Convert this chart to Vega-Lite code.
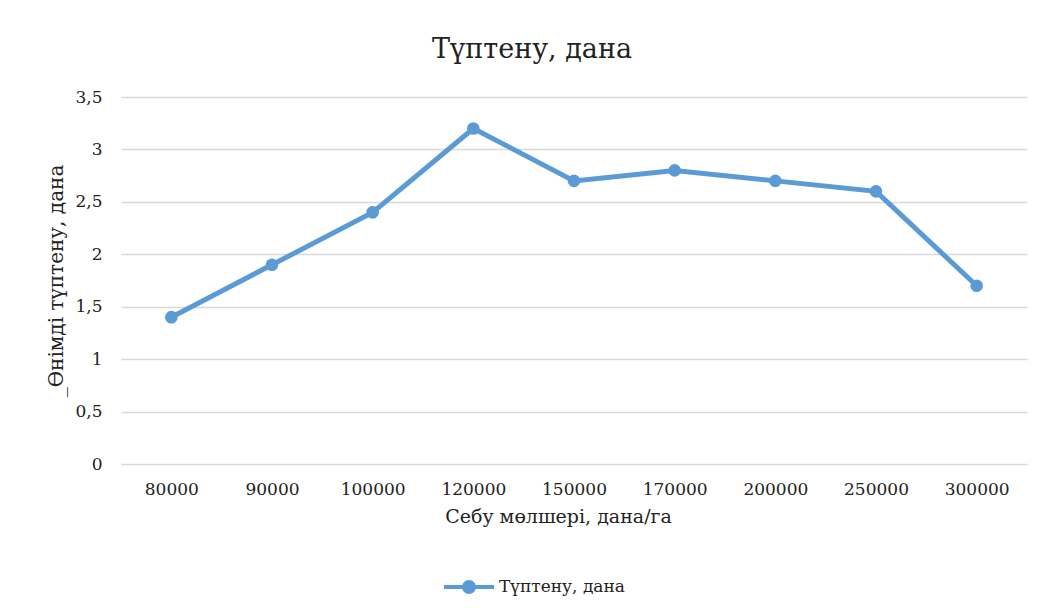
{
  "$schema": "https://vega.github.io/schema/vega-lite/v6.json",
  "autosize": "none",
  "width": 906,
  "height": 367,
  "padding": {"left": 121, "top": 97, "right": 13, "bottom": 149},
  "background": "white",
  "config": {
    "font": "DejaVu Serif",
    "view": {"stroke": null},
    "axis": {"labelFont": "DejaVu Serif", "titleFont": "DejaVu Serif", "labelColor": "#222", "titleColor": "#222", "titleFontWeight": "normal"},
    "legend": {"labelFont": "DejaVu Serif"}
  },
  "title": {
    "text": "Түптену, дана",
    "font": "DejaVu Serif",
    "fontSize": 27,
    "fontWeight": "normal",
    "color": "#222",
    "anchor": "middle",
    "dx": -42,
    "offset": 24
  },
  "data": {
    "values": [
      {"rate": "80000", "value": 1.4, "series": "Түптену, дана"},
      {"rate": "90000", "value": 1.9, "series": "Түптену, дана"},
      {"rate": "100000", "value": 2.4, "series": "Түптену, дана"},
      {"rate": "120000", "value": 3.2, "series": "Түптену, дана"},
      {"rate": "150000", "value": 2.7, "series": "Түптену, дана"},
      {"rate": "170000", "value": 2.8, "series": "Түптену, дана"},
      {"rate": "200000", "value": 2.7, "series": "Түптену, дана"},
      {"rate": "250000", "value": 2.6, "series": "Түптену, дана"},
      {"rate": "300000", "value": 1.7, "series": "Түптену, дана"}
    ]
  },
  "encoding": {
    "x": {
      "field": "rate",
      "type": "ordinal",
      "sort": null,
      "scale": {"paddingInner": 0, "paddingOuter": 0},
      "axis": {
        "title": "Себу мөлшері, дана/га",
        "titleFontSize": 19,
        "titlePadding": 10,
        "titleX": 437,
        "labelAngle": 0,
        "labelFontSize": 17,
        "labelPadding": 17,
        "ticks": false,
        "domain": false,
        "grid": false
      }
    },
    "y": {
      "field": "value",
      "type": "quantitative",
      "scale": {"domain": [0, 3.5], "nice": false},
      "axis": {
        "title": "_Өнімді түптену, дана",
        "titleFontSize": 20,
        "titlePadding": 8,
        "values": [0, 0.5, 1, 1.5, 2, 2.5, 3, 3.5],
        "labelExpr": "replace(toString(datum.value), '.', ',')",
        "labelFontSize": 17,
        "labelPadding": 19,
        "ticks": false,
        "domain": false,
        "grid": true,
        "gridColor": "#d9d9d9",
        "gridWidth": 1.5
      }
    },
    "color": {
      "field": "series",
      "type": "nominal",
      "scale": {"range": ["#5b9bd5"]},
      "legend": {
        "title": null,
        "orient": "none",
        "legendX": 336,
        "legendY": 478,
        "labelFontSize": 17,
        "labelColor": "#222",
        "symbolType": "M-2.5,0H-0.5A0.5,0.5 0 1,1 0.5,0A0.5,0.5 0 1,1 -0.5,0M0.5,0H2.5",
        "symbolSize": 400,
        "symbolStrokeWidth": 4,
        "symbolFillColor": "#5b9bd5",
        "symbolStrokeColor": "#5b9bd5",
        "labelOffset": 18
      }
    }
  },
  "layer": [
    {"mark": {"type": "line", "strokeWidth": 5}},
    {"mark": {"type": "point", "filled": true, "opacity": 1, "size": 160}}
  ]
}
